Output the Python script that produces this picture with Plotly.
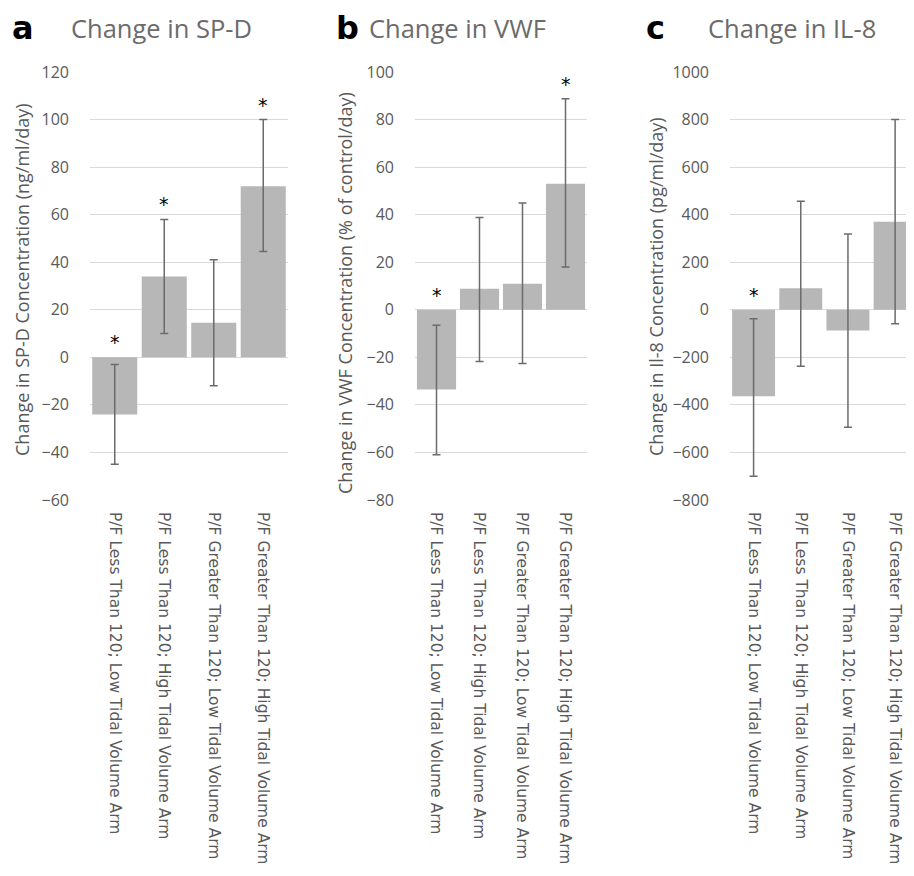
import plotly.graph_objects as go

# page body has an 8px margin; figure is sized so it fits the 914x876 window
OFF = 8
W, H = 914 - OFF, 876 - OFF

categories = [
    "P/F Less Than 120; Low Tidal Volume Arm",
    "P/F Less Than 120; High Tidal Volume Arm",
    "P/F Greater Than 120; Low Tidal Volume Arm",
    "P/F Greater Than 120; High Tidal Volume Arm",
]

# Panel a: SP-D
spd_mean = [-24, 34, 14.5, 72]
spd_err_plus = [21, 24, 26.5, 28]
spd_err_minus = [21, 24, 26.5, 27.5]
spd_sig = [True, True, False, True]

# Panel b: VWF
vwf_mean = [-33.5, 8.8, 10.9, 53]
vwf_err_plus = [27, 30, 34, 35.7]
vwf_err_minus = [27.5, 30.5, 33.5, 35]
vwf_sig = [True, False, False, True]

# Panel c: IL-8
il8_mean = [-364, 91, -87, 370]
il8_err_plus = [326, 365, 406, 430]
il8_err_minus = [336, 329, 407, 429]
il8_sig = [True, False, False, False]

panel_letters = ["a", "b", "c"]
panel_titles = ["Change in SP-D", "Change in VWF", "Change in IL-8"]
y_titles = [
    "Change in SP-D Concentration (ng/ml/day)",
    "Change in VWF Concentration (% of control/day)",
    "Change in Il-8 Concentration (pg/ml/day)",
]
y_ranges = [(-60, 120, 20), (-80, 100, 20), (-800, 1000, 200)]

panels = [
    (spd_mean, spd_err_plus, spd_err_minus, spd_sig),
    (vwf_mean, vwf_err_plus, vwf_err_minus, vwf_sig),
    (il8_mean, il8_err_plus, il8_err_minus, il8_sig),
]

# layout geometry (reference-window pixels)
x_doms = [(90, 288), (415, 587), (730, 914)]
x_rngs = [(-0.5, 3.5), (-0.5, 3.5), (-0.5, 3.4)]
y_top, y_bot = 72, 500
ytitle_x = [22, 345, 656]
ytitle_y = [280, 293, 287]
letter_x = [10, 334, 644]
title_x = [69, 367, 706]


def px(x):
    return (x - OFF) / W


def py(y):
    return 1 - (y - OFF) / H


BAR = "#b7b7b7"
ERR = "#6b6b6b"
GRID = "#d9d9d9"
TXT = "#595959"
FONT = "'Open Sans', sans-serif"

fig = go.Figure()
annotations = []

for i, (mean, ep, em, sig) in enumerate(panels):
    ax = "" if i == 0 else str(i + 1)
    fig.add_trace(go.Bar(
        x=categories, y=mean,
        marker=dict(color=BAR, line=dict(width=0)),
        error_y=dict(type="data", symmetric=False, array=ep, arrayminus=em,
                     visible=True, color=ERR, thickness=1.5, width=4),
        xaxis="x" + ax, yaxis="y" + ax, showlegend=False,
    ))
    lo, hi, dt = y_ranges[i]
    fig.layout["xaxis" + ax] = dict(
        domain=[px(x_doms[i][0]), min(1.0, px(x_doms[i][1]))],
        range=list(x_rngs[i]), anchor="y" + ax, automargin=False,
        tickangle=90, showgrid=False, zeroline=False, showline=False,
        ticks="", tickfont=dict(family="DejaVu Sans", size=15.5, color=TXT),
        ticklabelstandoff=11,
    )
    fig.layout["yaxis" + ax] = dict(
        domain=[py(y_bot), py(y_top)],
        range=[lo, hi], dtick=dt, tick0=lo, anchor="x" + ax, automargin=False,
        showgrid=True, gridcolor=GRID, gridwidth=1, zeroline=False,
        showline=False, ticks="",
        tickfont=dict(family=FONT, size=16, color=TXT),
        ticklabelstandoff=20,
    )
    # significance asterisks
    for c, m, e, s in zip(categories, mean, ep, sig):
        if s:
            annotations.append(dict(
                x=c, y=max(0, m + e), xref="x" + ax, yref="y" + ax,
                text="*", showarrow=False, yanchor="middle", yshift=15,
                font=dict(family="DejaVu Sans", size=19, color="#000000"),
            ))
    # y titles
    annotations.append(dict(
        x=px(ytitle_x[i]), y=py(ytitle_y[i]),
        xref="paper", yref="paper", text=y_titles[i], textangle=-90,
        showarrow=False, xanchor="center", yanchor="middle",
        font=dict(family=FONT, size=18, color=TXT),
    ))
    # panel letters and titles
    annotations.append(dict(
        x=px(letter_x[i]), y=py(27.5), xref="paper", yref="paper",
        text="<b>" + panel_letters[i] + "</b>", showarrow=False,
        xanchor="left", yanchor="middle",
        font=dict(family="DejaVu Sans", size=32, color="#000000"),
    ))
    annotations.append(dict(
        x=px(title_x[i]), y=py(28), xref="paper", yref="paper",
        text=panel_titles[i], showarrow=False,
        xanchor="left", yanchor="middle",
        font=dict(family=FONT, size=25.5, color="#6b6b6b"),
    ))

fig.update_layout(
    width=W, height=H,
    margin=dict(l=0, r=0, t=0, b=0, autoexpand=False),
    paper_bgcolor="white", plot_bgcolor="white",
    bargap=0.09,
    annotations=annotations,
)

fig.write_html("out.html")
